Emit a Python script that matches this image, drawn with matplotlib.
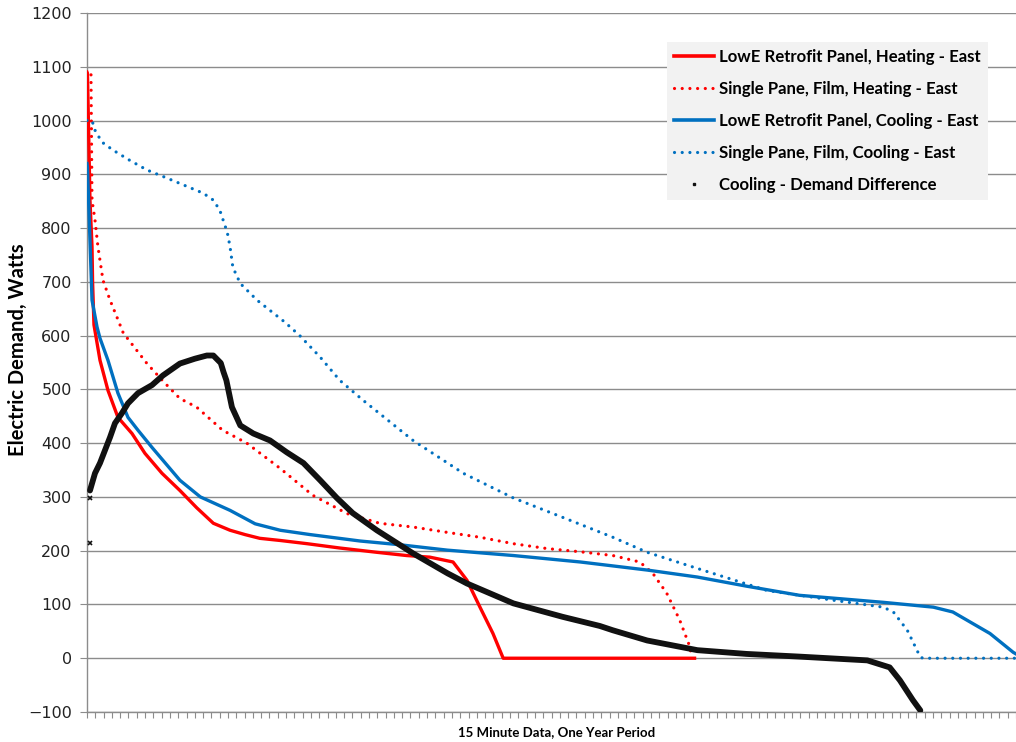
import matplotlib
matplotlib.use("Agg")
import matplotlib.pyplot as plt
from matplotlib.lines import Line2D
import numpy as np

# x positions are % of the one-year period (15-minute samples, sorted)
lowe_heat_x = [0, 0.05, 0.32, 0.54, 0.6, 0.75, 1.4, 2.26, 3.33, 4.84, 6.24, 8.07, 10.0, 11.8,
               13.6, 15.4, 17.0, 18.6, 20.8, 23.7, 27.2, 31.2, 34.4, 36.9, 39.4, 40.9, 42.3,
               43.7, 44.8, 65.4]
lowe_heat_y = [1090, 1088, 852, 765, 700, 620, 554, 498, 448, 418, 381, 344, 312, 280,
               251, 238, 230, 223, 219, 213, 205, 197, 191, 188, 179, 145, 95,
               46, 0, 0]

sp_heat_x = [0.43, 0.54, 0.86, 1.18, 1.72, 2.48, 3.23, 3.9, 6.46, 8.2, 10.0, 11.8, 14.6,
             17.2, 20.8, 24.3, 28.0, 31.5, 35.1, 38.8, 42.3, 45.9, 49.5, 53.1, 56.6,
             59.5, 60.9, 62.4, 63.8, 64.9, 65.1]
sp_heat_y = [1085, 852, 815, 765, 703, 666, 634, 605, 548, 515, 483, 467, 424,
             400, 353, 303, 269, 251, 244, 234, 225, 213, 204, 198, 191,
             179, 158, 121, 71, 21, 0]

lowe_cool_x = [0, 0.05, 0.32, 0.54, 1.08, 1.4, 2.26, 3.33, 4.41, 5.49, 7.0, 8.18, 10.0, 12.2,
               15.4, 18.1, 20.8, 24.0, 29.4, 33.7, 38.8, 45.9, 53.1, 60.3, 65.7, 71.0, 76.7,
               85.7, 91.1, 93.2, 94.7, 97.2, 99.7, 100]
lowe_cool_y = [920, 913, 777, 666, 616, 595, 554, 493, 448, 424, 392, 368, 331, 300,
               275, 250, 238, 230, 218, 211, 201, 191, 179, 164, 151, 134, 117,
               104, 95, 86, 71, 46, 11, 8]

sp_cool_x = [0, 0.54, 0.86, 1.6, 2.8, 4.6, 6.46, 8.6, 10.0, 11.8, 12.5, 13.6, 14.3, 15.1,
             15.4, 15.7, 16.5, 18.3, 21.3, 22.9, 25.1, 27.2, 29.7, 35.1, 40.5, 45.9,
             51.2, 56.6, 60.3, 65.7, 73.2, 80.3, 85.7, 86.8, 88.3, 89.7, 90.0, 100]
sp_cool_y = [1000, 1000, 982, 960, 945, 926, 908, 893, 883, 870, 865, 852, 833, 792,
             765, 727, 697, 666, 625, 600, 560, 517, 480, 405, 344, 298,
             262, 225, 197, 167, 126, 108, 95, 86, 52, 2, 0, 0]

diff_x = [0.32, 0.86, 1.4, 1.94, 2.48, 3.01, 3.77, 4.41, 5.49, 7.0, 8.18, 10.0, 11.6,
          12.9, 13.6, 14.4, 14.7, 15.0, 15.6, 16.5, 17.9, 19.7, 21.5, 23.3, 25.1, 26.9,
          28.6, 31.2, 35.1, 38.8, 40.9, 45.9, 51.2, 55.2, 56.6, 60.3, 65.7, 71.0, 76.7,
          84.0, 86.4, 87.5, 88.9, 89.7]
diff_y = [312, 344, 363, 387, 411, 437, 456, 474, 493, 508, 526, 548, 557,
          563, 563, 549, 532, 517, 467, 433, 418, 405, 383, 363, 331, 298,
          270, 238, 195, 158, 139, 102, 77, 60, 52, 33, 15, 8, 3,
          -4, -17, -41, -78, -97]
diff_outlier_x = [0.32, 0.32]
diff_outlier_y = [214, 298]

RED = "#FF0000"
BLUE = "#0070C0"

fig = plt.figure(figsize=(10.16, 7.42), dpi=100)
ax = fig.add_axes([87/1016, 1 - 712/742, 929/1016, 699/742])

dot = (0, (0.01, 2.4))
ax.plot(lowe_heat_x, lowe_heat_y, color=RED, lw=2.4, zorder=4, solid_joinstyle="round")
ax.plot(sp_heat_x, sp_heat_y, color=RED, lw=2.3, ls=dot, zorder=4, dash_capstyle="round")
ax.plot(lowe_cool_x, lowe_cool_y, color=BLUE, lw=2.4, zorder=4, solid_joinstyle="round")
ax.plot(sp_cool_x, sp_cool_y, color=BLUE, lw=2.3, ls=dot, zorder=4, dash_capstyle="round")
ax.plot(diff_x, diff_y, color="#111111", lw=4.2, zorder=5, solid_capstyle="round",
        solid_joinstyle="round")
ax.plot(diff_outlier_x, diff_outlier_y, ls="none", marker="x", ms=3, mew=1.2,
        color="#111111", zorder=5)

ax.set_xlim(0, 100)
ax.set_ylim(-100, 1200)
ax.set_yticks(np.arange(-100, 1201, 100))
ax.set_xticks(np.linspace(0, 100, 113))
ax.set_xticklabels([])
ax.yaxis.grid(True, color="#8C8C8C", lw=1.0)
ax.set_axisbelow(True)
for s in ["top", "right"]:
    ax.spines[s].set_visible(False)
for s in ["left", "bottom"]:
    ax.spines[s].set_color("#8C8C8C")
    ax.spines[s].set_linewidth(1.0)
ax.tick_params(axis="y", length=5, color="#8C8C8C", labelsize=11.5, pad=6,
               labelcolor="#222222")
ax.tick_params(axis="x", length=4, color="#8C8C8C", direction="out")
for lab in ax.get_yticklabels():
    lab.set_family("DejaVu Sans")

ax.set_ylabel("Electric Demand, Watts", fontsize=14.5, fontweight="bold",
              family="Lato")
ax.yaxis.set_label_coords(-(87 - 18) / 929, (712 - 350) / 699)
ax.set_xlabel("15 Minute Data, One Year Period", fontsize=9.5, fontweight="bold",
              family="Lato")
ax.xaxis.set_label_coords((557 - 87) / 929, -(732 - 712) / 699)
ax.xaxis.label.set_va("center")
ax.yaxis.label.set_va("center")

handles = [
    Line2D([], [], color=RED, lw=2.6),
    Line2D([], [], color=RED, lw=2.3, ls=dot, dash_capstyle="round"),
    Line2D([], [], color=BLUE, lw=2.6),
    Line2D([], [], color=BLUE, lw=2.3, ls=dot, dash_capstyle="round"),
    Line2D([], [], color="#111111", ls="none", marker="s", ms=2),
]
labels = ["LowE Retrofit Panel, Heating - East",
          "Single Pane, Film, Heating - East",
          "LowE Retrofit Panel, Cooling - East",
          "Single Pane, Film, Cooling - East",
          "Cooling - Demand Difference"]
leg = ax.legend(handles, labels, loc="upper left",
                bbox_to_anchor=((667 - 87) / 929, (712 - 42) / 699),
                frameon=True, fancybox=False, facecolor="#F2F2F2", edgecolor="none",
                framealpha=1, prop={"family": "Lato", "weight": "bold", "size": 12.1},
                handlelength=2.4, handletextpad=0.3, labelspacing=0.95,
                borderpad=0.42, borderaxespad=0)
leg.set_zorder(10)

fig.savefig("out.png", dpi=100)
